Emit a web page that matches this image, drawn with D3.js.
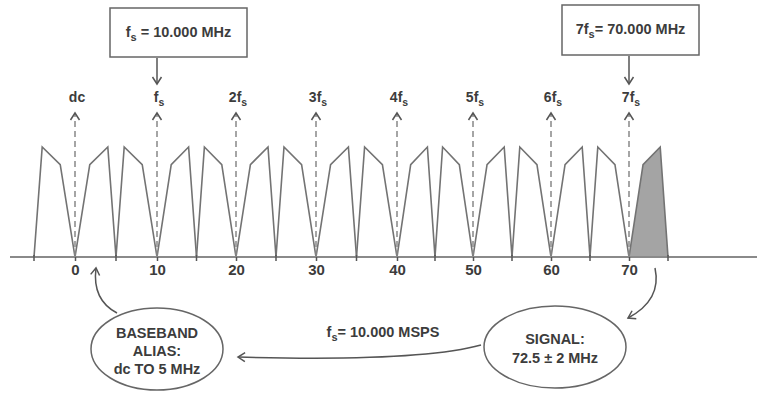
<!DOCTYPE html>
<html>
<head>
<meta charset="utf-8">
<script src="https://cdn.jsdelivr.net/npm/d3@7"></script>
<style>
  html, body { margin: 0; padding: 0; background: #fff; }
  svg { display: block; }
  text { font-family: "Liberation Sans", Arial, Helvetica, sans-serif; font-weight: bold; fill: #3c3c3c; }
</style>
</head>
<body>
<svg id="chart" width="758" height="393"></svg>
<script>
// ---------------- data ----------------
const harmonics = [0, 1, 2, 3, 4, 5, 6, 7];            // multiples of fs
const harmonicLabels = ["dc", "f|s", "2f|s", "3f|s", "4f|s", "5f|s", "6f|s", "7f|s"];
const tickLabels = [0, 10, 20, 30, 40, 50, 60, 70];      // MHz
const fsMHz = 10;
// spectral shape of one image (offset from its fs multiple, MHz) and relative amplitude
const shapeOffsets = [0, 1.8, 4.0, 5.0];
const shapeAmps    = [0, 0.84, 1.0, 0];
// images extending to the right of each multiple (last one is the actual signal)
const upperImageBases = [0, 10, 20, 30, 40, 50, 60];
const signalBase = 70;
// mirrored images extending to the left of each multiple
const lowerImageBases = [0, 10, 20, 30, 40, 50, 60, 70];

// ---------------- setup ----------------
const svg = d3.select("#chart");
// hand-drawn frequency axis: slightly uneven spacing between labelled ticks
const x = d3.scaleLinear().domain(tickLabels).range([75, 157, 236, 316, 397, 473, 551, 629]);
const y = d3.scaleLinear().domain([0, 1]).range([257, 147]);
const grey = "#737373";

const defs = svg.append("defs");
defs.append("marker")
  .attr("id", "chev")
  .attr("viewBox", "-10 -6 12 12")
  .attr("refX", 0).attr("refY", 0)
  .attr("markerWidth", 12).attr("markerHeight", 12)
  .attr("markerUnits", "userSpaceOnUse")
  .attr("orient", "auto")
  .append("path")
  .attr("d", "M-7,-4.5 L0,0 L-7,4.5")
  .attr("fill", "none").attr("stroke", "#555").attr("stroke-width", 1.5);

function fsText(sel, label, size) {
  const parts = label.split("|");
  sel.text(null);
  sel.append("tspan").text(parts[0]);
  if (parts.length > 1) {
    sel.append("tspan").attr("font-size", size * 0.75).attr("dy", 4).text(parts[1]);
  }
}

// ---------------- spectral images ----------------
const line = d3.line().x(d => x(d[0])).y(d => y(d[1]));

upperImageBases.forEach(b => {
  const pts = shapeOffsets.map((o, i) => [b + o, shapeAmps[i]]);
  svg.append("path").attr("d", line(pts))
    .attr("fill", "none").attr("stroke", grey).attr("stroke-width", 1.6);
});
lowerImageBases.forEach(b => {
  const pts = shapeOffsets.map((o, i) => [b - o, shapeAmps[i]]);
  svg.append("path").attr("d", line(pts))
    .attr("fill", "none").attr("stroke", grey).attr("stroke-width", 1.6);
});
{
  const pts = shapeOffsets.map((o, i) => [signalBase + o, shapeAmps[i]]);
  svg.append("path").attr("d", line(pts) + "Z")
    .attr("fill", "#a4a4a4").attr("stroke", grey).attr("stroke-width", 1.6);
}

// ---------------- axis ----------------
svg.append("line")
  .attr("x1", 10).attr("x2", 757).attr("y1", y(0)).attr("y2", y(0))
  .attr("stroke", "#8a8a8a").attr("stroke-width", 2);

const minorTicks = lowerImageBases.map(b => b - shapeOffsets[3])
  .concat([signalBase + shapeOffsets[3]]);
svg.append("g").selectAll("line").data(minorTicks).join("line")
  .attr("x1", d => x(d)).attr("x2", d => x(d))
  .attr("y1", y(0) - 2).attr("y2", y(0) + 4)
  .attr("stroke", "#555").attr("stroke-width", 1.5);

const axis = d3.axisBottom(x).tickValues(tickLabels).tickSize(4).tickPadding(3).tickSizeOuter(0);
const gAxis = svg.append("g").attr("transform", `translate(0,${y(0)})`).call(axis);
gAxis.select(".domain").remove();
gAxis.selectAll(".tick line").attr("stroke", "#555").attr("stroke-width", 1.5);
gAxis.selectAll(".tick text")
  .attr("font-family", "Liberation Sans, Arial, sans-serif")
  .attr("font-weight", "bold").attr("font-size", 15).attr("fill", "#444");

// ---------------- dashed harmonic arrows + labels ----------------
harmonics.forEach((k, i) => {
  const xx = x(k * fsMHz);
  svg.append("line")
    .attr("x1", xx).attr("x2", xx).attr("y1", y(0)).attr("y2", 113)
    .attr("stroke", "#888").attr("stroke-width", 1.5).attr("stroke-dasharray", "6,4")
    .attr("marker-end", "url(#chev)");
  const t = svg.append("text")
    .attr("x", xx + 2).attr("y", 102).attr("text-anchor", "middle").attr("font-size", 14);
  fsText(t, harmonicLabels[i], 14);
});

// ---------------- top boxes ----------------
function box(x0, y0, w, h, label, targetX) {
  svg.append("rect").attr("x", x0).attr("y", y0).attr("width", w).attr("height", h)
    .attr("fill", "#fff").attr("stroke", "#666").attr("stroke-width", 1.5);
  const t = svg.append("text").attr("x", x0 + w / 2).attr("y", y0 + h / 2 + 4)
    .attr("text-anchor", "middle").attr("font-size", 14.5);
  const parts = label.split("|");
  t.append("tspan").text(parts[0]);
  t.append("tspan").attr("font-size", 11).attr("dy", 4).text(parts[1]);
  t.append("tspan").attr("dy", -4).text(parts[2]);
  svg.append("line").attr("x1", targetX).attr("x2", targetX).attr("y1", y0 + h + 1).attr("y2", 84)
    .attr("stroke", "#555").attr("stroke-width", 1.5).attr("marker-end", "url(#chev)");
}
box(110, 8, 137, 49, "f|s| = 10.000 MHz", x(1 * fsMHz));
box(562, 5, 137, 50, "7f|s|= 70.000 MHz", x(7 * fsMHz));

// ---------------- bottom ellipses ----------------
function bubble(cx, cy, rx, ry, lines, y0, dy) {
  svg.append("ellipse").attr("cx", cx).attr("cy", cy).attr("rx", rx).attr("ry", ry)
    .attr("fill", "#fff").attr("stroke", "#666").attr("stroke-width", 1.5);
  lines.forEach((l, i) => {
    svg.append("text").attr("x", cx).attr("y", y0 + i * dy)
      .attr("text-anchor", "middle").attr("font-size", 14.5).text(l);
  });
}
bubble(157, 349, 66, 41, ["BASEBAND", "ALIAS:", "dc TO 5 MHz"], 338, 18);
bubble(555, 347, 71, 41, ["SIGNAL:", "72.5 \u00B1 2 MHz"], 344, 19);

// sampling rate text
{
  const t = svg.append("text").attr("x", 383).attr("y", 337).attr("text-anchor", "middle").attr("font-size", 14.5);
  t.append("tspan").text("f");
  t.append("tspan").attr("font-size", 11).attr("dy", 4).text("s");
  t.append("tspan").attr("dy", -4).text("= 10.000 MSPS");
}

// ---------------- curved arrows ----------------
const arrowStyle = s => s.attr("fill", "none").attr("stroke", "#555").attr("stroke-width", 1.5).attr("marker-end", "url(#chev)");
svg.append("path").attr("d", "M655,268 Q662,300 628,318").call(arrowStyle);
svg.append("path").attr("d", "M481,345 Q420,362 238,357").call(arrowStyle);
svg.append("path").attr("d", "M117,313 Q92,300 96,268").call(arrowStyle);
</script>
</body>
</html>
